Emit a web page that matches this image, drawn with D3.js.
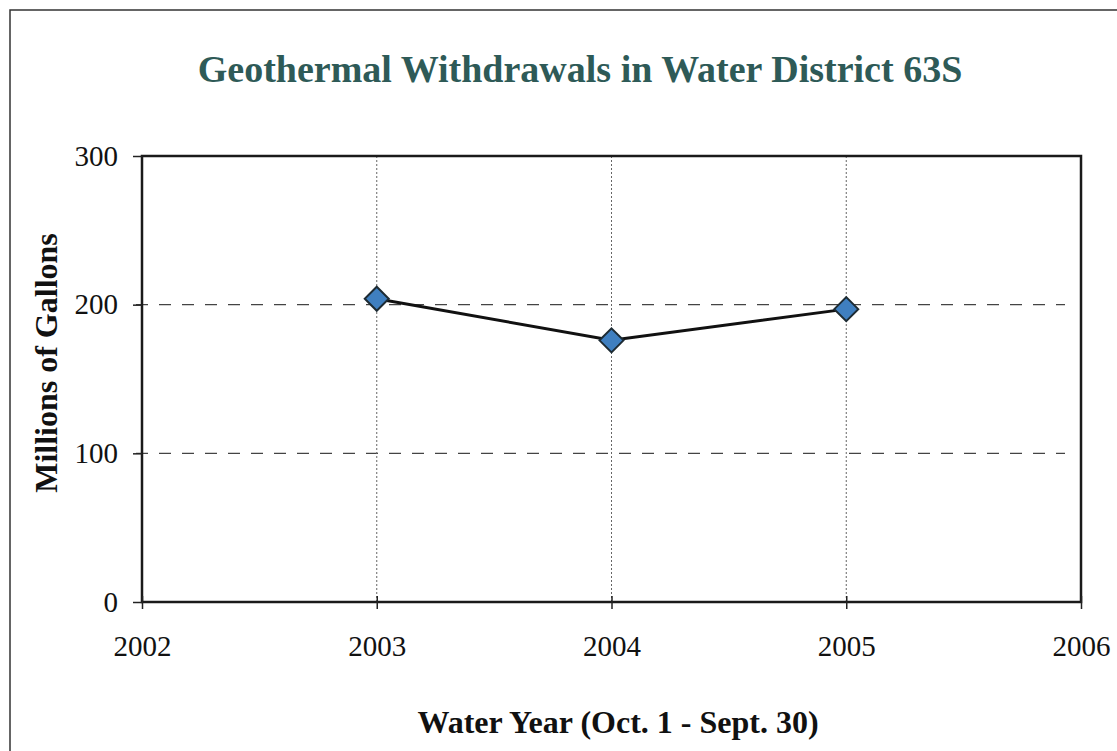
<!DOCTYPE html>
<html>
<head>
<meta charset="utf-8">
<script src="https://cdn.jsdelivr.net/npm/d3@7"></script>
<style>
  body { margin: 0; background: #fff; }
</style>
</head>
<body>
<div id="chart"></div>
<script>
// data
const years = [2003, 2004, 2005];
const gallons = [204, 176, 197];
const xTicks = [2002, 2003, 2004, 2005, 2006];
const yTicks = [0, 100, 200, 300];

const serif = '"Liberation Serif", "Times New Roman", "DejaVu Serif", serif';

const W = 1117, H = 751;
const margin = {top: 156, right: 36, bottom: 149, left: 142};
const width = W - margin.left - margin.right;
const height = H - margin.top - margin.bottom;

const svg = d3.select("#chart").append("svg")
    .attr("width", W)
    .attr("height", H)
    .style("font-family", serif);

// outer frame (runs off the right/bottom edge like the scan)
svg.append("rect")
    .attr("x", 10).attr("y", 10)
    .attr("width", W).attr("height", H)
    .attr("fill", "none")
    .attr("stroke", "#333")
    .attr("stroke-width", 1.5);

const g = svg.append("g")
    .attr("transform", "translate(" + margin.left + "," + margin.top + ")");

const x = d3.scaleLinear()
    .domain([2002, 2006])
    .range([0, width]);

const y = d3.scaleLinear()
    .domain([0, 300])
    .range([height, 0]);

// horizontal dashed gridlines
g.selectAll(".hgrid")
  .data(yTicks.filter(d => d > 0 && d < 300))
  .enter().append("line")
    .attr("class", "hgrid")
    .attr("x1", -6).attr("x2", width - 16)
    .attr("y1", d => y(d)).attr("y2", d => y(d))
    .attr("stroke", "#444")
    .attr("stroke-width", 1.2)
    .attr("stroke-dasharray", "12,11");

// vertical dotted gridlines
g.selectAll(".vgrid")
  .data(xTicks.filter(d => d > 2002 && d < 2006))
  .enter().append("line")
    .attr("class", "vgrid")
    .attr("x1", d => x(d)).attr("x2", d => x(d))
    .attr("y1", 0).attr("y2", height)
    .attr("stroke", "#666")
    .attr("stroke-width", 1)
    .attr("stroke-dasharray", "2,2");

// plot frame
g.append("rect")
    .attr("width", width)
    .attr("height", height)
    .attr("fill", "none")
    .attr("stroke", "#1a1a1a")
    .attr("stroke-width", 2.5);

// y axis
const yAxis = g.append("g")
    .call(d3.axisLeft(y).tickValues(yTicks).tickSize(9).tickPadding(15));
yAxis.attr("font-family", null).attr("font-size", null);
yAxis.select(".domain").remove();
yAxis.selectAll("line").attr("stroke", "#222").attr("stroke-width", 1.5);
yAxis.selectAll("text")
    .attr("fill", "#111")
    .style("font-family", serif)
    .style("font-size", "29px");

// x axis (ticks cross the axis line)
const xAxis = g.append("g")
    .attr("transform", "translate(0," + height + ")")
    .call(d3.axisBottom(x).tickValues(xTicks).tickFormat(d3.format("d")).tickSize(7).tickPadding(26));
xAxis.attr("font-family", null).attr("font-size", null);
xAxis.select(".domain").remove();
xAxis.selectAll("line").attr("y1", -6).attr("stroke", "#222").attr("stroke-width", 1.5);
xAxis.selectAll("text")
    .attr("fill", "#111")
    .style("font-family", serif)
    .style("font-size", "29px");

// series line
const line = d3.line()
    .x((d, i) => x(years[i]))
    .y(d => y(d));

g.append("path")
    .datum(gallons)
    .attr("fill", "none")
    .attr("stroke", "#111")
    .attr("stroke-width", 3)
    .attr("d", line);

// diamond markers
g.selectAll(".pt")
  .data(gallons)
  .enter().append("path")
    .attr("class", "pt")
    .attr("transform", (d, i) => "translate(" + x(years[i]) + "," + y(d) + ")")
    .attr("d", "M0,-12L12,0L0,12L-12,0Z")
    .attr("fill", "#3f7fc0")
    .attr("stroke", "#1d2b33")
    .attr("stroke-width", 2);

// title
svg.append("text")
    .attr("x", 580).attr("y", 82)
    .attr("text-anchor", "middle")
    .attr("fill", "#2e5a57")
    .style("font-size", "38px")
    .style("font-weight", "bold")
    .text("Geothermal Withdrawals in Water District 63S");

// y label
svg.append("text")
    .attr("transform", "translate(57,363) rotate(-90)")
    .attr("text-anchor", "middle")
    .attr("fill", "#111")
    .style("font-size", "32px")
    .style("font-weight", "bold")
    .text("Millions of Gallons");

// x label
svg.append("text")
    .attr("x", 618).attr("y", 733)
    .attr("text-anchor", "middle")
    .attr("fill", "#111")
    .style("font-size", "32px")
    .style("font-weight", "bold")
    .text("Water Year (Oct. 1 - Sept. 30)");
</script>
</body>
</html>
